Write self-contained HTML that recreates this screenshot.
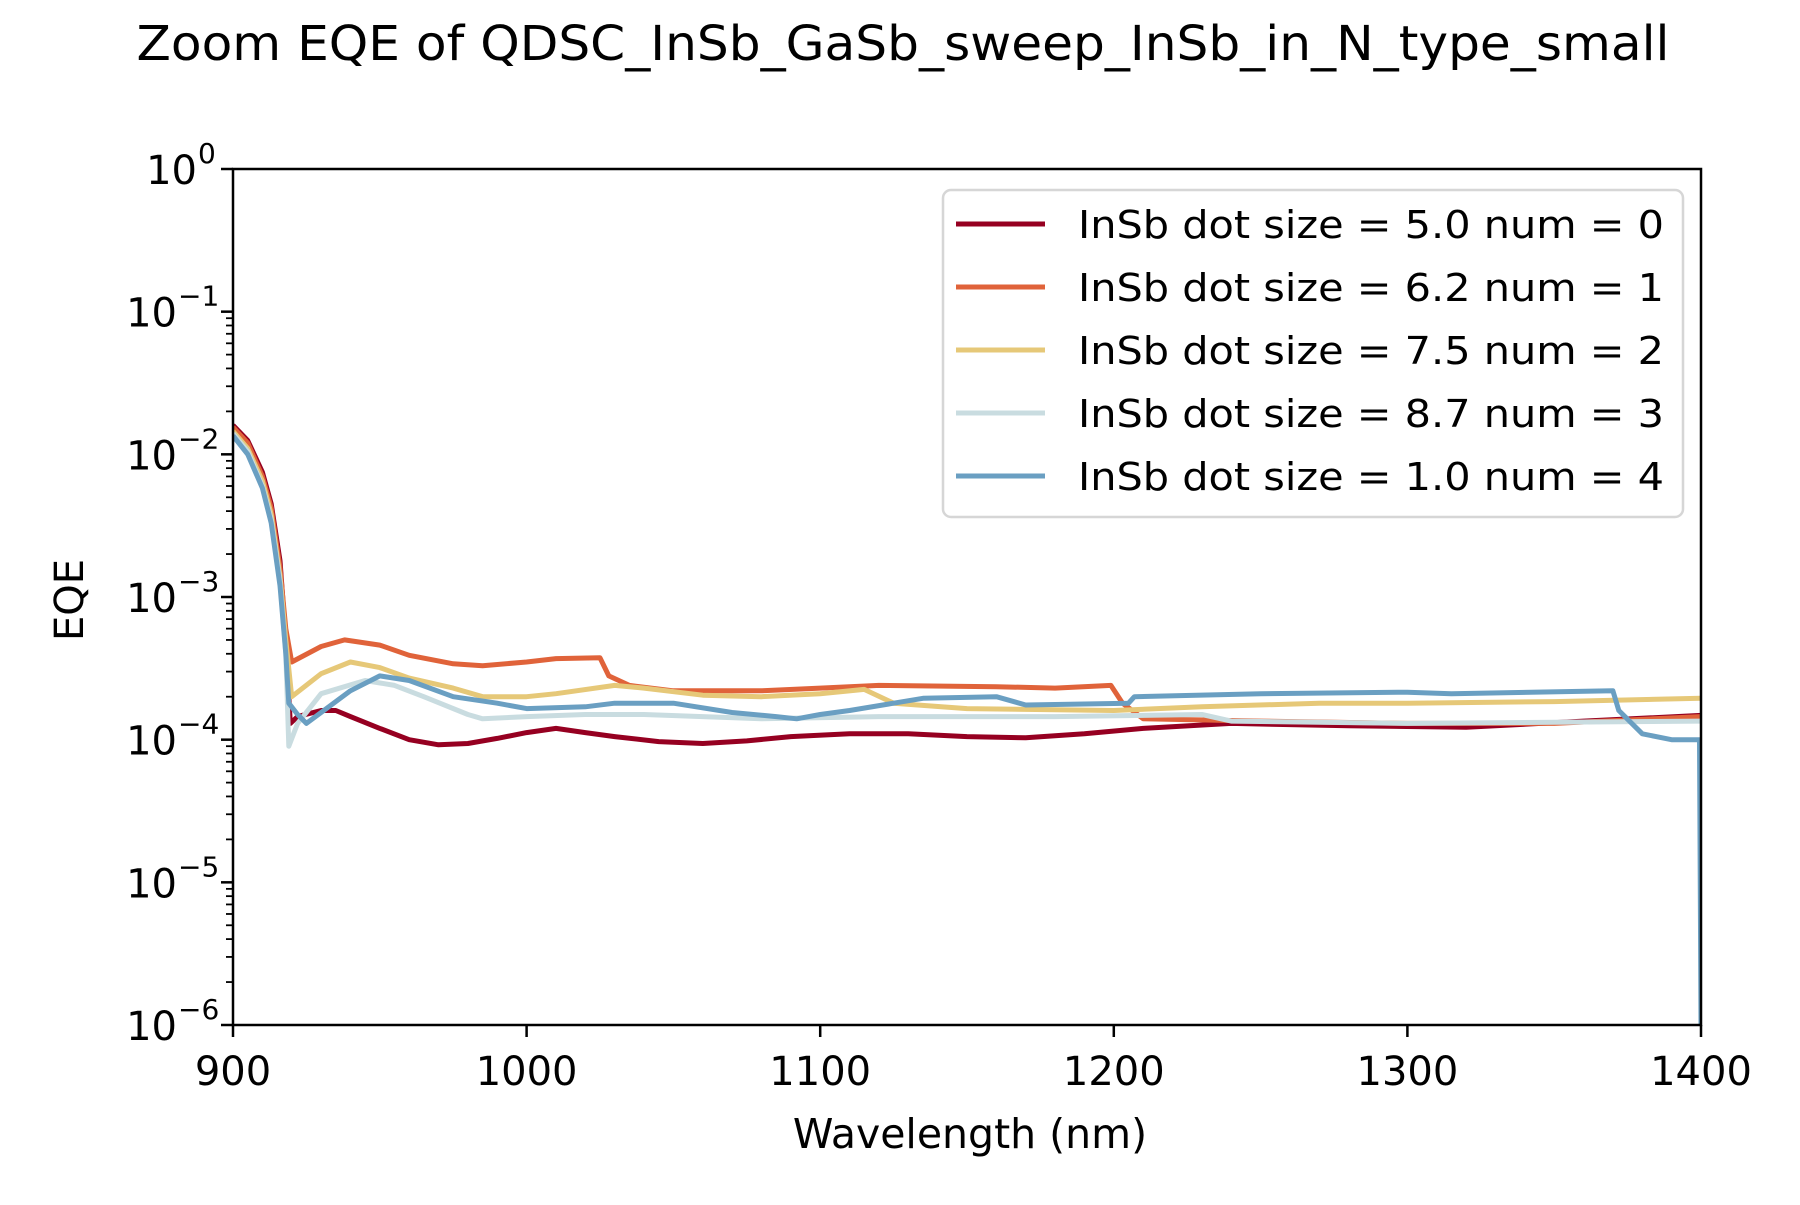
<!DOCTYPE html>
<html><head><meta charset="utf-8"><style>
body{margin:0;background:#fff}
svg text{font-family:"DejaVu Sans","Liberation Sans",sans-serif;fill:#000}
</style></head><body>
<svg id="chart" width="1800" height="1200" viewBox="0 0 1800 1200" xmlns="http://www.w3.org/2000/svg">
<rect width="1800" height="1200" fill="#fff"/>
<text x="903" y="60" font-size="48" text-anchor="middle" textLength="1533" lengthAdjust="spacingAndGlyphs">Zoom EQE of QDSC_InSb_GaSb_sweep_InSb_in_N_type_small</text>
<g id="plot"></g>
<g id="axes"></g>
<text x="970" y="1148" font-size="41" text-anchor="middle">Wavelength (nm)</text>
<text x="0" y="0" font-size="40" text-anchor="middle" transform="translate(83,600) rotate(-90)">EQE</text>
<g id="legend"></g>
</svg>
<script>
const xTicks=[900,1000,1100,1200,1300,1400];
const yDecades=[0,-1,-2,-3,-4,-5,-6];
const seriesNames=["InSb dot size = 5.0 num = 0","InSb dot size = 6.2 num = 1","InSb dot size = 7.5 num = 2","InSb dot size = 8.7 num = 3","InSb dot size = 1.0 num = 4"];
const seriesColors=["#960021","#e0633a","#e6c878","#c9dce0","#6a9fc2"];
const wl0=[900,905,910,913,916,918,919.5,922,930,935,940,950,960,970,980,990,1000,1010,1020,1030,1045,1060,1075,1090,1110,1130,1150,1170,1190,1210,1240,1280,1320,1360,1400];
const eqe0=[1.6e-2,1.25e-2,7.5e-3,4.5e-3,1.8e-3,5e-4,1.3e-4,1.45e-4,1.6e-4,1.6e-4,1.45e-4,1.2e-4,1.0e-4,9.2e-5,9.4e-5,1.02e-4,1.12e-4,1.2e-4,1.12e-4,1.05e-4,9.7e-5,9.4e-5,9.8e-5,1.05e-4,1.1e-4,1.1e-4,1.05e-4,1.03e-4,1.1e-4,1.2e-4,1.3e-4,1.25e-4,1.22e-4,1.35e-4,1.48e-4];
const wl1=[900,905,910,913,916,918,920,930,938,950,960,975,985,1000,1010,1025,1028,1035,1050,1080,1100,1120,1160,1180,1199,1203,1210,1250,1300,1350,1400];
const eqe1=[1.55e-2,1.2e-2,7e-3,4.2e-3,1.6e-3,6e-4,3.5e-4,4.5e-4,5.0e-4,4.6e-4,3.9e-4,3.4e-4,3.3e-4,3.5e-4,3.7e-4,3.75e-4,2.8e-4,2.4e-4,2.2e-4,2.2e-4,2.3e-4,2.4e-4,2.35e-4,2.3e-4,2.4e-4,1.8e-4,1.4e-4,1.35e-4,1.3e-4,1.3e-4,1.45e-4];
const wl2=[900,905,910,913,916,918,920,930,940,950,960,975,985,1000,1010,1030,1040,1060,1080,1100,1115,1125,1150,1200,1230,1270,1300,1350,1400];
const eqe2=[1.45e-2,1.1e-2,6.5e-3,3.8e-3,1.4e-3,5e-4,2.0e-4,2.9e-4,3.5e-4,3.2e-4,2.7e-4,2.3e-4,2.0e-4,2.0e-4,2.1e-4,2.4e-4,2.3e-4,2.05e-4,2.0e-4,2.1e-4,2.25e-4,1.8e-4,1.65e-4,1.6e-4,1.7e-4,1.8e-4,1.8e-4,1.85e-4,1.95e-4];
const wl3=[900,905,910,913,916,918,919,922,930,945,955,965,980,985,1000,1020,1040,1060,1080,1120,1180,1230,1240,1300,1400];
const eqe3=[1.4e-2,1.05e-2,6e-3,3.5e-3,1.3e-3,4e-4,9e-5,1.3e-4,2.1e-4,2.6e-4,2.4e-4,2.0e-4,1.5e-4,1.4e-4,1.45e-4,1.5e-4,1.5e-4,1.45e-4,1.4e-4,1.45e-4,1.45e-4,1.5e-4,1.35e-4,1.3e-4,1.35e-4];
const wl4=[900,905,910,913,916,918,919,922,925,930,940,950,960,975,990,1000,1020,1030,1050,1070,1085,1092,1100,1110,1125,1135,1160,1170,1205,1207,1250,1300,1315,1370,1372,1380,1390,1399.5,1400];
const eqe4=[1.35e-2,1.0e-2,5.8e-3,3.3e-3,1.2e-3,4e-4,1.8e-4,1.5e-4,1.3e-4,1.55e-4,2.2e-4,2.8e-4,2.6e-4,2.0e-4,1.8e-4,1.65e-4,1.7e-4,1.8e-4,1.8e-4,1.55e-4,1.45e-4,1.4e-4,1.5e-4,1.6e-4,1.8e-4,1.95e-4,2.0e-4,1.75e-4,1.8e-4,2.0e-4,2.1e-4,2.15e-4,2.1e-4,2.2e-4,1.6e-4,1.1e-4,1.0e-4,1.0e-4,1e-6];
const wls=[wl0,wl1,wl2,wl3,wl4];
const eqes=[eqe0,eqe1,eqe2,eqe3,eqe4];

const L=233,R=1701,T=169,B=1025;
const NS="http://www.w3.org/2000/svg";
function xs(v){return L+(v-900)/500*(R-L);}
function ys(v){return T+(0-Math.log10(v))/6*(B-T);}
function mk(t,a,p){const e=document.createElementNS(NS,t);for(const k in a)e.setAttribute(k,a[k]);p.appendChild(e);return e;}
const plot=document.getElementById('plot'),axes=document.getElementById('axes'),leg=document.getElementById('legend');
mk('clipPath',{id:'cp'},plot);
mk('rect',{x:L,y:T-3,width:R-L,height:B-T+6},document.getElementById('cp'));
for(let i=0;i<5;i++){
  const d=wls[i].map((w,j)=>(j?'L':'M')+xs(w).toFixed(1)+','+ys(eqes[i][j]).toFixed(1)).join(' ');
  const p=mk('path',{d:d,fill:'none',stroke:seriesColors[i],'stroke-width':5,'stroke-linejoin':'round','clip-path':'url(#cp)'},plot);
  
  
}
const fr=mk('rect',{x:L,y:T,width:R-L,height:B-T,fill:'none',stroke:'#000','stroke-width':2.5},axes);


xTicks.forEach(v=>{
  const x=xs(v);
  mk('line',{x1:x,x2:x,y1:B,y2:B+12,stroke:'#000','stroke-width':2.5},axes);
  const t=mk('text',{x:x,y:B+60,'font-size':40,'text-anchor':'middle'},axes);
  t.textContent=v;
  
  
});
yDecades.forEach(e=>{
  const y=ys(Math.pow(10,e));
  mk('line',{x1:L-12,x2:L,y1:y,y2:y,stroke:'#000','stroke-width':2.5},axes);
  const sup=e===0?'0':'\u2212'+(-e);
  const supW=e===0?18:38;
  const t=mk('text',{x:L-18-supW,y:y+15,'font-size':40,'text-anchor':'end'},axes);
  t.textContent='10';
  
  
  const s=mk('text',{x:L-18-supW+1,y:y-6,'font-size':28,'text-anchor':'start'},axes);
  s.textContent=sup;
  if(e<0){
    for(let m=2;m<10;m++){const yy=ys(m*Math.pow(10,e-1));if(yy<=B)mk('line',{x1:L-7,x2:L,y1:yy,y2:yy,stroke:'#000','stroke-width':1.8},axes);}
  }
});
const lb=mk('rect',{x:943,y:190,width:740,height:327,rx:8,fill:'#fff','fill-opacity':0.8,stroke:'#d6d6d6','stroke-width':2.5},leg);


seriesNames.forEach((n,i)=>{
  const y=224+i*63;
  mk('line',{x1:956,x2:1045,y1:y,y2:y,stroke:seriesColors[i],'stroke-width':5},leg);
  const t=mk('text',{x:1078,y:y+14,'font-size':38,textLength:586,lengthAdjust:'spacingAndGlyphs'},leg);
  t.textContent=n;
  
  
});
</script>
</body></html>
